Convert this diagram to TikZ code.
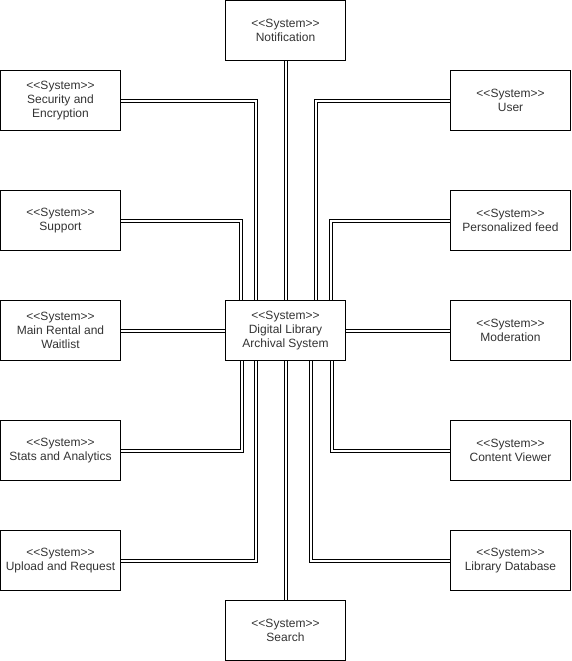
\documentclass[tikz,border=0pt]{standalone}
\usepackage{fontspec}
\setmainfont{Liberation Sans}
\usetikzlibrary{positioning}
\newcommand\stype{<\kern0pt<System>\kern0pt>}

\begin{document}
\begin{tikzpicture}[x=1pt,y=-1pt,
    sysbox/.style={draw,line width=1pt,minimum width=120pt,minimum height=60pt,
      inner sep=0pt,align=center,text=black!80,
      font=\fontsize{12}{14}\selectfont},
    link/.style={draw,line width=1pt,double=white,double distance=2pt}]
    \useasboundingbox(-0.5,-0.5)rectangle(570.5,660.5);
    % systems round the centre
    \node[sysbox](dl)at(285,330){\stype\\Digital Library\\Archival System};
    \node[sysbox](note)at(285,30){\stype\\Notification};
    \node[sysbox](search)at(285,630){\stype\\Search};
    \node[sysbox](sec)at(60,100){\stype\\Security and\\Encryption};
    \node[sysbox](supp)at(60,220){\stype\\Support};
    \node[sysbox](rent)at(60,330){\stype\\Main Rental and\\Waitlist};
    \node[sysbox](stats)at(60,450){\stype\\Stats and Analytics};
    \node[sysbox](upl)at(60,560){\stype\\Upload and Request};
    \node[sysbox](user)at(510,100){\stype\\User};
    \node[sysbox](feed)at(510,220){\stype\\Personalized feed};
    \node[sysbox](mod)at(510,330){\stype\\Moderation};
    \node[sysbox](view)at(510,450){\stype\\Content Viewer};
    \node[sysbox](libdb)at(510,560){\stype\\Library Database};
    % links
    \draw[link](note)--(dl);
    \draw[link](dl)--(search);
    \draw[link](rent)--(dl);
    \draw[link](dl)--(mod);
    \draw[link](sec.east)-|([xshift=-30]dl.north);
    \draw[link](supp.east)-|([xshift=-45]dl.north);
    \draw[link](user.west)-|([xshift=30]dl.north);
    \draw[link](feed.west)-|([xshift=45]dl.north);
    \draw[link](stats.east)-|([xshift=-44]dl.south);
    \draw[link](upl.east)-|([xshift=-30]dl.south);
    \draw[link](view.west)-|([xshift=46]dl.south);
    \draw[link](libdb.west)-|([xshift=25]dl.south);
  \end{tikzpicture}
\end{document}
